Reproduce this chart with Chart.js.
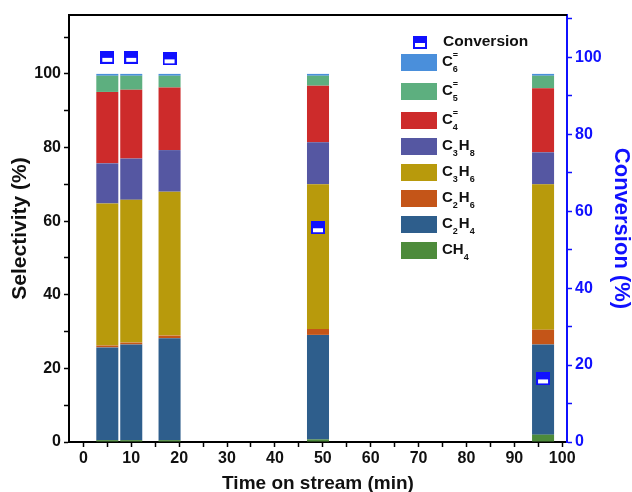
<!DOCTYPE html>
<html>
<head>
<meta charset="utf-8">
<script src="https://cdn.jsdelivr.net/npm/chart.js@4.4.1/dist/chart.umd.min.js"></script>
<style>
  body { margin: 0; background: #fff; }
  #wrap { width: 632px; height: 492px; }
</style>
</head>
<body>
<div id="wrap"><canvas id="moncanvas" width="632" height="492"></canvas></div>
<script>
// time on stream (min)
const times = [5, 10, 18, 49, 96];

// selectivity (%) per product, stacked bottom to top
const ch4  = [0.5, 0.5, 0.5, 0.7, 2.0];
const c2h4 = [25.2, 26.0, 27.7, 28.4, 24.5];
const c2h6 = [0.5, 0.5, 0.7, 1.6, 4.0];
const c3h6 = [38.6, 38.8, 39.1, 39.3, 39.5];
const c3h8 = [10.9, 11.2, 11.3, 11.4, 8.7];
const c4   = [19.4, 18.7, 17.0, 15.4, 17.4];
const c5   = [4.4, 3.8, 3.2, 2.7, 3.4];
const c6   = [0.5, 0.5, 0.5, 0.5, 0.5];

// conversion (%)
const conversion = [100, 100, 99.6, 55.7, 16.4];

const names = ['CH_4', 'C_2H_4', 'C_2H_6', 'C_3H_6', 'C_3H_8', 'C_4^=', 'C_5^=', 'C_6^='];
const series = [ch4, c2h4, c2h6, c3h6, c3h8, c4, c5, c6];
const colors = ['#4d8b3b', '#2e5e8c', '#c45518', '#b89a0c', '#5557a2', '#cd2b2b', '#5daf7f', '#4a8fdb'];

const xTicks = [0, 10, 20, 30, 40, 50, 60, 70, 80, 90, 100];
const blue = '#1010ff';
const FONT = "'Liberation Sans', Arial, sans-serif";

// half filled square marker
const mk = document.createElement('canvas');
mk.width = 14; mk.height = 13;
const mctx = mk.getContext('2d');
mctx.fillStyle = blue;
mctx.fillRect(0, 0, 14, 13);
mctx.fillStyle = '#fff';
mctx.fillRect(2, 7, 10, 4);

function drawFormula(ctx, txt, x, y) {
    let cx = x, subStart = null;
    ctx.textBaseline = 'middle';
    ctx.textAlign = 'left';
    for (let i = 0; i < txt.length; i++) {
        const c = txt[i];
        if (c === '_') {
            ctx.font = 'bold 9px ' + FONT;
            subStart = cx;
            ctx.fillText(txt[i + 1], cx, y + 8);
            cx += ctx.measureText(txt[i + 1]).width + 1;
            i++;
        } else if (c === '^') {
            ctx.font = 'bold 9px ' + FONT;
            const sx = subStart !== null ? subStart : cx;
            ctx.fillText(txt[i + 1], sx, y - 6);
            i++;
            subStart = null;
        } else {
            ctx.font = 'bold 15px ' + FONT;
            ctx.fillText(c, cx, y);
            cx += ctx.measureText(c).width;
            subStart = null;
        }
    }
}

const legendePlugin = {
    id: 'legende',
    afterDraw(chart) {
        const ctx = chart.ctx;
        const a = chart.chartArea;
        ctx.save();
        // top frame line
        ctx.strokeStyle = '#000';
        ctx.lineWidth = 2;
        ctx.beginPath();
        ctx.moveTo(a.left - 1, a.top);
        ctx.lineTo(a.right, a.top);
        ctx.stroke();

        const lx = a.left + 332;
        ctx.drawImage(mk, lx + 12, a.top + 21);
        ctx.fillStyle = '#111';
        ctx.font = 'bold 15.5px ' + FONT;
        ctx.textBaseline = 'middle';
        ctx.fillText('Conversion', lx + 42, a.top + 27);

        let y = a.top + 39;
        for (let k = names.length - 1; k >= 0; k--) {
            if (k < names.length - 1) y += names[k].includes('^') ? 29 : 26;
            ctx.fillStyle = colors[k];
            ctx.fillRect(lx, y, 36, 17);
            ctx.fillStyle = '#111';
            drawFormula(ctx, names[k], lx + 41, y + 8);
        }
        ctx.restore();
    }
};

const datasets = [{
    type: 'scatter',
    label: 'Conversion',
    data: times.map((t, i) => ({x: t, y: conversion[i]})),
    yAxisID: 'y2',
    pointStyle: mk,
    backgroundColor: blue,
    borderColor: blue
}];
series.forEach((arr, k) => {
    datasets.push({
        type: 'bar',
        label: names[k].replace(/[_^]/g, ''),
        data: times.map((t, i) => ({x: t, y: arr[i]})),
        backgroundColor: colors[k],
        borderWidth: 0,
        yAxisID: 'y',
        barPercentage: 0.92,
        categoryPercentage: 1
    });
});

Chart.defaults.font.family = FONT;
Chart.defaults.font.weight = 'bold';
Chart.defaults.color = '#111';

const config = {
    type: 'bar',
    data: { datasets: datasets },
    options: {
        responsive: false,
        animation: false,
        layout: { padding: { top: 15, right: 0, left: 0, bottom: 0 } },
        plugins: { legend: { display: false }, tooltip: { enabled: false } },
        scales: {
            x: {
                type: 'linear',
                stacked: true,
                offset: false,
                min: -3,
                max: 101,
                afterFit: s => { s.height = 50; },
                border: { color: '#000', width: 2 },
                grid: { offset: false, drawOnChartArea: false, tickLength: 5, tickColor: '#000', tickWidth: 1.5 },
                ticks: {
                    stepSize: 5,
                    includeBounds: false,
                    autoSkip: false,
                    maxRotation: 0,
                    padding: 2,
                    font: { size: 16, weight: 'bold' },
                    color: '#111',
                    callback: v => xTicks.includes(v) ? String(v) : ''
                },
                title: {
                    display: true,
                    text: 'Time on stream (min)',
                    font: { size: 19, weight: 'bold' },
                    color: '#111',
                    padding: { top: 0, bottom: -3 }
                }
            },
            y: {
                position: 'left',
                stacked: true,
                min: 0,
                max: 116,
                afterFit: s => { s.width = 69; },
                border: { color: '#000', width: 2 },
                grid: { drawOnChartArea: false, tickLength: 5, tickColor: '#000', tickWidth: 1.5 },
                ticks: {
                    stepSize: 10,
                    includeBounds: false,
                    padding: 3,
                    font: { size: 16, weight: 'bold' },
                    color: '#111',
                    callback: v => v % 20 === 0 ? String(v) : ''
                },
                title: {
                    display: true,
                    text: 'Selectivity (%)',
                    font: { size: 21, weight: 'bold' },
                    color: '#111',
                    padding: { top: 8, bottom: 0 }
                }
            },
            y2: {
                position: 'right',
                min: 0,
                max: 111,
                afterFit: s => { s.width = 65; },
                border: { color: blue, width: 2 },
                grid: { drawOnChartArea: false, tickLength: 5, tickColor: blue, tickWidth: 1.5 },
                ticks: {
                    stepSize: 10,
                    includeBounds: false,
                    padding: 3,
                    font: { size: 16, weight: 'bold' },
                    color: blue,
                    callback: v => v % 20 === 0 ? String(v) : ''
                },
                title: {
                    display: true,
                    text: 'Conversion (%)',
                    font: { size: 22, weight: 'bold' },
                    color: blue,
                    padding: { top: -2, bottom: 0 }
                }
            }
        }
    },
    plugins: [legendePlugin]
};

const myChart = new Chart(document.querySelector('#moncanvas'), config);
</script>
</body>
</html>
